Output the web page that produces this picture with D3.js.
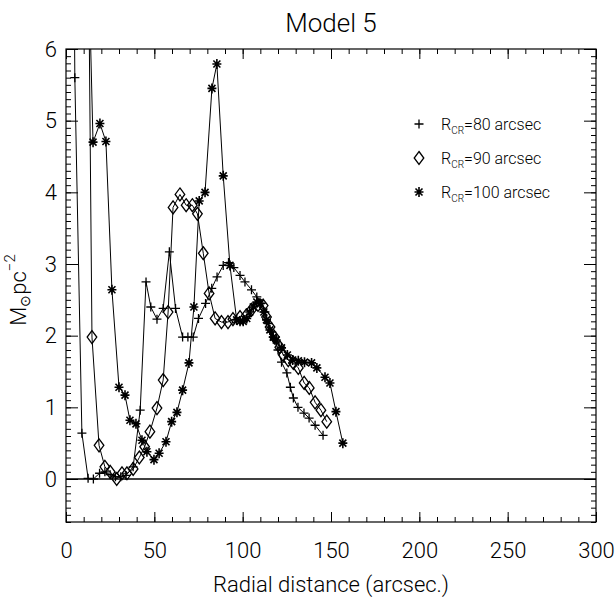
<!DOCTYPE html>
<html>
<head>
<meta charset="utf-8">
<script src="https://cdn.jsdelivr.net/npm/d3@7"></script>
<style>
  body { margin: 0; background: #fff; }
  svg { display: block; }
  text { font-family: Roboto, "DejaVu Sans", sans-serif; font-weight: 300; fill: #000; }
</style>
</head>
<body>
<svg id="chart" width="616" height="602"></svg>
<script>
// ---- Data ----
const seriesNames = ["R_CR=80 arcsec", "R_CR=90 arcsec", "R_CR=100 arcsec"];
const legendValues = ["80", "90", "100"];

const plusX = [4.5, 5.0, 9, 12.5, 15.5, 19, 22, 25, 28, 31, 34, 38, 42, 45.3, 48, 51.5, 55, 58.5, 62, 66, 69, 72, 75, 79, 82.5, 85.5, 89, 92, 95, 98.5, 101.3, 105, 108, 110.5, 112.6, 114.5, 116.5, 118, 120, 122, 125, 127, 128.7, 131.3, 134.7, 137.6, 141, 145.5];
const plusY = [7.5, 5.6, 0.64, 0.01, 0.0, 0.08, 0.1, 0.06, 0.03, 0.03, 0.05, 0.17, 0.96, 2.75, 2.4, 2.23, 2.38, 3.17, 2.38, 1.98, 1.98, 1.98, 2.24, 2.45, 2.66, 2.82, 2.98, 3.02, 2.95, 2.84, 2.75, 2.64, 2.54, 2.45, 2.33, 2.17, 2.05, 1.94, 1.8, 1.63, 1.48, 1.28, 1.13, 1.0, 0.92, 0.85, 0.75, 0.61];

const diamX = [12.5, 14.7, 18.7, 22, 25, 28.7, 31.7, 34.5, 38, 41.5, 44.5, 47.5, 51.5, 55, 57.8, 60.6, 64.5, 68, 71.5, 74.4, 77.7, 81, 84.4, 88, 91.7, 94.5, 98.5, 102, 105, 108.7, 111.6, 113.5, 115.5, 118, 121, 123, 125.8, 128.7, 131.5, 134.8, 137.7, 141, 144.3, 147.6];
const diamY = [8.0, 1.98, 0.47, 0.17, 0.10, 0.0, 0.08, 0.08, 0.14, 0.3, 0.45, 0.66, 0.99, 1.38, 2.33, 3.79, 3.97, 3.82, 3.82, 3.7, 3.15, 2.59, 2.24, 2.19, 2.19, 2.23, 2.26, 2.28, 2.36, 2.43, 2.42, 2.26, 2.12, 1.98, 1.84, 1.73, 1.66, 1.62, 1.55, 1.34, 1.27, 1.07, 0.96, 0.8];

const starX = [12.5, 15.3, 19.2, 22.6, 26, 30, 33.4, 36.2, 39.6, 43, 45.8, 49.8, 52.7, 56.6, 59.8, 62.8, 66, 69.6, 72.4, 75.4, 78.7, 82.6, 85.4, 89, 92.8, 96.6, 98.5, 100.3, 102.3, 104, 106, 108, 110, 112, 113.5, 115.4, 117.3, 119, 122, 125.3, 128.3, 131.5, 135, 139, 142, 146.6, 149.4, 152.8, 156.7];
const starY = [7.5, 4.70, 4.96, 4.71, 2.64, 1.28, 1.17, 0.82, 0.77, 0.54, 0.38, 0.27, 0.36, 0.52, 0.8, 0.93, 1.24, 1.62, 2.4, 3.88, 4.0, 5.45, 5.79, 4.23, 2.98, 2.22, 2.2, 2.2, 2.24, 2.33, 2.4, 2.47, 2.45, 2.33, 2.22, 2.08, 1.98, 1.94, 1.83, 1.73, 1.66, 1.65, 1.63, 1.62, 1.55, 1.42, 1.34, 0.94, 0.5];

const xTicks = [0, 50, 100, 150, 200, 250, 300];
const yTicks = [0, 1, 2, 3, 4, 5, 6];

// ---- Layout ----
const L = 66, R = 596, T = 49, B = 522;
const svg = d3.select("#chart");
const x = d3.scaleLinear().domain([0, 300]).range([L, R]);
const y = d3.scaleLinear().domain([-0.6, 6]).range([B, T]);

svg.append("defs").append("clipPath").attr("id", "clip")
  .append("rect").attr("x", L).attr("y", T).attr("width", R - L).attr("height", B - T);

const xMinor = d3.range(0, 301, 10);
const yMinor = d3.range(-6, 61, 1).map(d => d / 10);

function styleAxis(g) {
  g.select(".domain").remove();
  g.selectAll("line").attr("stroke", "#000").attr("stroke-width", 1);
  g.selectAll("text").style("font-size", "22px").style("font-family", "Roboto, 'DejaVu Sans', sans-serif").style("font-weight", 300).attr("fill", "#000");
}

// bottom
svg.append("g").attr("transform", `translate(0,${B})`)
  .call(d3.axisBottom(x).tickValues(xMinor).tickSize(-5).tickFormat("")).call(styleAxis);
svg.append("g").attr("transform", `translate(0,${B})`)
  .call(d3.axisBottom(x).tickValues(xTicks).tickSize(-10).tickPadding(20).tickFormat(d3.format("d"))).call(styleAxis);
// top
svg.append("g").attr("transform", `translate(0,${T})`)
  .call(d3.axisTop(x).tickValues(xMinor).tickSize(-5).tickFormat("")).call(styleAxis);
svg.append("g").attr("transform", `translate(0,${T})`)
  .call(d3.axisTop(x).tickValues(xTicks).tickSize(-10).tickFormat("")).call(styleAxis);
// left
svg.append("g").attr("transform", `translate(${L},0)`)
  .call(d3.axisLeft(y).tickValues(yMinor).tickSize(-5).tickFormat("")).call(styleAxis);
svg.append("g").attr("transform", `translate(${L},0)`)
  .call(d3.axisLeft(y).tickValues(yTicks).tickSize(-12).tickPadding(9).tickFormat(d3.format("d"))).call(styleAxis);
// right
svg.append("g").attr("transform", `translate(${R},0)`)
  .call(d3.axisRight(y).tickValues(yMinor).tickSize(-5).tickFormat("")).call(styleAxis);
svg.append("g").attr("transform", `translate(${R},0)`)
  .call(d3.axisRight(y).tickValues(yTicks).tickSize(-12).tickFormat("")).call(styleAxis);

// frame
svg.append("rect").attr("x", L).attr("y", T).attr("width", R - L).attr("height", B - T)
  .attr("fill", "none").attr("stroke", "#000").attr("stroke-width", 1.2);

// zero line
svg.append("line").attr("x1", x(0)).attr("x2", x(300)).attr("y1", y(0)).attr("y2", y(0))
  .attr("stroke", "#000").attr("stroke-width", 1.3);

// markers
const plusPath = "M-4.5,0H4.5M0,-4.5V4.5";
const diamPath = "M0,-6.5L4.8,0L0,6.5L-4.8,0Z";
const starPath = "M-4.5,0H4.5M0,-5V5M-3.5,-3.5L3.5,3.5M-3.5,3.5L3.5,-3.5";

const series = [
  { xs: plusX, ys: plusY, mark: plusPath, sw: 1.3 },
  { xs: diamX, ys: diamY, mark: diamPath, sw: 1.3 },
  { xs: starX, ys: starY, mark: starPath, sw: 1.6 }
];

const plot = svg.append("g").attr("clip-path", "url(#clip)");
const line = d3.line().x(d => x(d[0])).y(d => y(d[1]));
series.forEach(s => {
  const pts = s.xs.map((v, i) => [v, s.ys[i]]);
  plot.append("path").datum(pts).attr("d", line)
    .attr("fill", "none").attr("stroke", "#000").attr("stroke-width", 1);
  plot.selectAll(null).data(pts).enter().append("path")
    .attr("transform", d => `translate(${x(d[0])},${y(d[1])})`)
    .attr("d", s.mark).attr("fill", "none").attr("stroke", "#000").attr("stroke-width", s.sw);
});

// legend
const legY = [124, 158, 192];
const legMarks = [plusPath, diamPath, starPath];
legendValues.forEach((v, i) => {
  svg.append("path").attr("transform", `translate(419,${legY[i]})`)
    .attr("d", legMarks[i]).attr("fill", "none").attr("stroke", "#000").attr("stroke-width", i === 2 ? 1.6 : 1.3);
  const t = svg.append("text").attr("x", 441).attr("y", legY[i] + 6).style("font-size", "16px");
  t.append("tspan").text("R");
  t.append("tspan").text("CR").attr("dy", 4).style("font-size", "10px");
  t.append("tspan").text("=" + v + " arcsec").attr("dy", -4);
});

// title
svg.append("text").attr("x", 331).attr("y", 32).attr("text-anchor", "middle")
  .style("font-size", "26px").text("Model 5");

// x label
svg.append("text").attr("x", 331).attr("y", 592).attr("text-anchor", "middle")
  .style("font-size", "22px").text("Radial distance (arcsec.)");

// y label
const yl = svg.append("text").attr("transform", "translate(26,290) rotate(-90)")
  .attr("text-anchor", "middle").style("font-size", "22px");
yl.append("tspan").text("M");
yl.append("tspan").text("⊙").style("font-size", "14px").attr("dy", 4);
yl.append("tspan").text("pc").attr("dy", -4);
yl.append("tspan").text("−2").style("font-size", "15px").attr("dy", -11);
</script>
</body>
</html>
